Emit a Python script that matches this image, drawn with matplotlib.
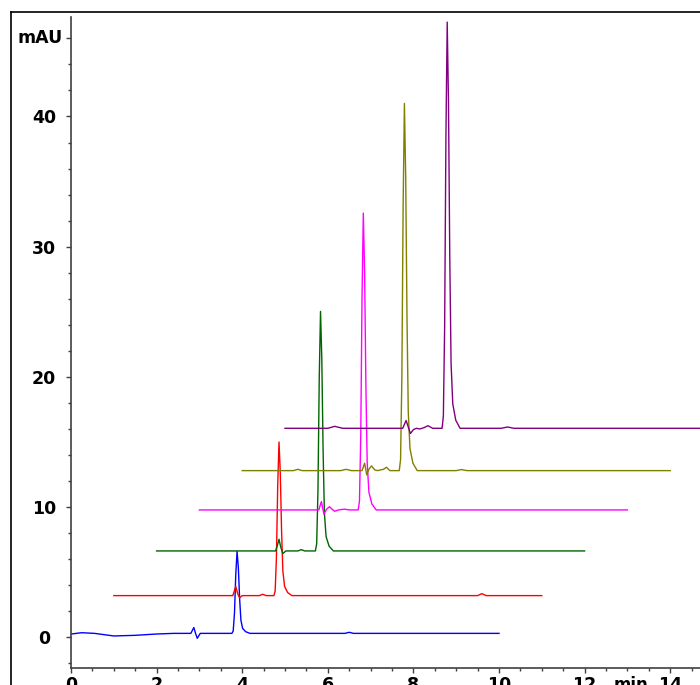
import matplotlib
matplotlib.use('Agg')
import matplotlib.pyplot as plt
from matplotlib.lines import Line2D
from matplotlib.ticker import MultipleLocator

# stacked chromatograms: each run is drawn shifted right by 1 min and up by its own baseline
run_colors = ['#0000ff', '#ff0000', '#006400', '#ff00ff', '#808000', '#800080']
time_shift = [0, 1, 2, 3, 4, 5]
baseline = [0.3, 3.2, 6.63, 9.78, 12.8, 16.05]

# run 1 (blue)
t_blue = [0.0, 0.25, 0.55, 1.0, 1.5, 2.0, 2.4, 2.80, 2.87, 2.91, 2.95, 3.02, 3.4,
          3.76, 3.79, 3.82, 3.85, 3.88, 3.91, 3.94, 3.97, 4.01, 4.08, 4.18,
          5.5, 6.4, 6.5, 6.6, 8.0, 10.0]
v_blue = [-0.05, 0.05, 0.0, -0.2, -0.15, -0.05, 0.0, 0.0, 0.45, 0.0, -0.38, 0.0, 0.0,
          0.0, 0.19, 1.58, 4.54, 6.3, 5.04, 2.65, 1.01, 0.38, 0.13, 0.0,
          0.0, 0.0, 0.08, 0.0, 0.0, 0.0]

# run 2 (red)
t_red = [0.0, 1.5, 2.78, 2.85, 2.9, 2.94, 3.0, 3.4, 3.48, 3.56,
         3.74, 3.77, 3.80, 3.83, 3.86, 3.89, 3.92, 3.95, 3.99, 4.06, 4.16,
         6.0, 8.5, 8.6, 8.7, 10.0]
v_red = [0.0, 0.0, 0.0, 0.7, 0.1, -0.17, 0.0, 0.0, 0.1, 0.0,
         0.0, 0.35, 2.95, 8.5, 11.8, 9.44, 4.96, 1.89, 0.71, 0.24, 0.0,
         0.0, 0.0, 0.15, 0.0, 0.0]

# run 3 (green)
t_green = [0.0, 2.5, 2.78, 2.82, 2.86, 2.9, 2.95, 3.02, 3.3, 3.38, 3.46,
           3.71, 3.74, 3.77, 3.80, 3.83, 3.86, 3.89, 3.92, 3.96, 4.03, 4.13, 10.0]
v_green = [0.0, 0.0, 0.0, 0.4, 0.9, 0.3, -0.2, 0.0, 0.0, 0.1, 0.0,
           0.0, 0.55, 4.6, 13.25, 18.4, 14.72, 7.73, 2.94, 1.1, 0.37, 0.0, 0.0]

# run 4 (magenta)
t_magenta = [0.0, 2.5, 2.79, 2.85, 2.91, 2.97, 3.04, 3.1, 3.16, 3.25, 3.39, 3.5,
             3.71, 3.74, 3.77, 3.80, 3.83, 3.86, 3.89, 3.92, 3.96, 4.03, 4.13, 10.0]
v_magenta = [0.0, 0.0, 0.0, 0.64, -0.33, 0.05, 0.25, 0.05, -0.1, 0.0, 0.06, 0.0,
             0.0, 0.68, 5.7, 16.42, 22.8, 18.24, 9.58, 3.65, 1.37, 0.46, 0.0, 0.0]

# run 5 (olive)
t_olive = [0.0, 1.2, 1.3, 1.4, 2.3, 2.43, 2.55, 2.8, 2.86, 2.91, 2.96, 3.02, 3.1,
           3.16, 3.3, 3.37, 3.45,
           3.67, 3.70, 3.73, 3.76, 3.79, 3.82, 3.85, 3.88, 3.92, 3.99, 4.09,
           5.0, 5.12, 5.25, 10.0]
v_olive = [0.0, 0.0, 0.1, 0.0, 0.0, 0.1, 0.0, 0.0, 0.57, -0.33, 0.1, 0.36, 0.05,
           0.0, 0.1, 0.26, 0.0,
           0.0, 0.85, 7.05, 20.3, 28.2, 22.56, 11.84, 4.51, 1.69, 0.56, 0.0,
           0.0, 0.08, 0.0, 0.0]

# run 6 (purple)
t_purple = [0.0, 1.0, 1.16, 1.35, 2.75, 2.83, 2.93, 3.0, 3.07, 3.15, 3.25, 3.34, 3.45,
            3.67, 3.70, 3.73, 3.76, 3.79, 3.82, 3.85, 3.88, 3.92, 3.99, 4.09,
            5.05, 5.2, 5.35, 10.0]
v_purple = [0.0, 0.0, 0.15, 0.0, 0.0, 0.6, -0.4, -0.1, 0.0, -0.05, 0.05, 0.2, 0.0,
            0.0, 0.94, 7.8, 22.46, 31.2, 24.96, 13.1, 4.99, 1.87, 0.62, 0.0,
            0.0, 0.1, 0.0, 0.0]

run_times = [t_blue, t_red, t_green, t_magenta, t_olive, t_purple]
run_values = [v_blue, v_red, v_green, v_magenta, v_olive, v_purple]

y_major = [0, 10, 20, 30, 40]
x_major = [0, 2, 4, 6, 8, 10, 12, 14]

W, H = 700, 685
plt.rcParams['font.family'] = ['DejaVu Sans']
fig = plt.figure(figsize=(W / 100, H / 100), dpi=100)
ax = fig.add_axes([71 / W, (H - 668) / H, 629 / W, 651 / H])

for times, values, dx, dy, col in zip(run_times, run_values, time_shift, baseline, run_colors):
    ax.plot([t + dx for t in times], [v + dy for v in values], color=col, lw=1.0)

ymin, ymax = -2.36, 47.64
ax.set_xlim(0, 629 / 42.8)
ax.set_ylim(ymin, ymax)

for side in ['top', 'right']:
    ax.spines[side].set_visible(False)
for side in ['left', 'bottom']:
    ax.spines[side].set_color('#404040')
    ax.spines[side].set_linewidth(1.2)

ax.xaxis.set_minor_locator(MultipleLocator(0.5))
ax.yaxis.set_minor_locator(MultipleLocator(2))
ax.set_yticks(y_major + [46])
ax.set_yticklabels([str(v) for v in y_major] + [''])
ax.set_xticks(x_major)
ax.set_xticklabels([str(v) for v in x_major])

ax.tick_params(axis='y', which='major', length=3.5, width=1, color='#404040', pad=16,
               labelsize=12.5)
ax.tick_params(axis='y', which='minor', length=2, width=1, color='#404040')
ax.tick_params(axis='x', which='major', length=3.5, width=1, color='#404040', pad=2.5,
               labelsize=12.5)
ax.tick_params(axis='x', which='minor', length=2.5, width=1, color='#404040')
for lab in ax.get_yticklabels():
    lab.set_horizontalalignment('center')
    lab.set_fontweight('bold')
for lab in ax.get_xticklabels():
    lab.set_fontweight('bold')

ax.text(-31 / 629, 46, 'mAU', transform=ax.get_yaxis_transform(), ha='center',
        va='center', fontsize=12.5, fontweight='bold')
ax.text(13.17, ymin - 7.7 / 13.02, 'min.', ha='center', va='top', fontsize=12,
        fontweight='bold', clip_on=False)

# outer border of the exported frame
fig.add_artist(Line2D([11 / W, 11 / W], [0, (H - 12) / H], color='black', lw=1.2))
fig.add_artist(Line2D([11 / W, 1], [(H - 12) / H, (H - 12) / H], color='black', lw=1.2))

fig.savefig('out.png', dpi=100)
